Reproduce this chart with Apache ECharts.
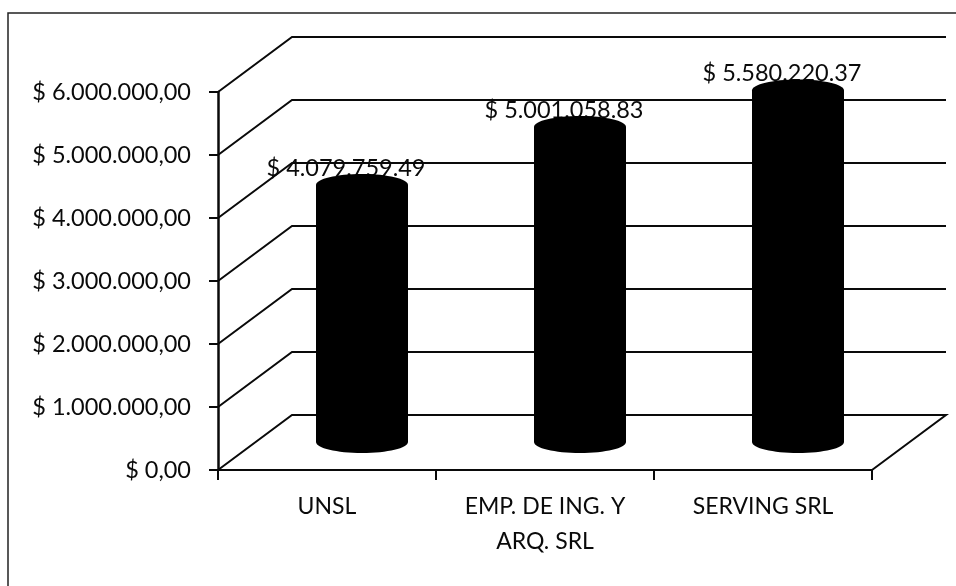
<!DOCTYPE html>
<html>
<head>
<meta charset="utf-8">
<style>html,body{margin:0;padding:0;background:#fff}#c{width:956px;height:586px}</style>
<script src="https://cdn.jsdelivr.net/npm/echarts@6/dist/echarts.min.js"></script>
</head>
<body>
<div id="c"></div>
<script>
const categories = ['UNSL', 'EMP. DE ING. Y\nARQ. SRL', 'SERVING SRL'];
const values = [4079759.49, 5001058.83, 5580220.37];
const valueLabels = ['$ 4.079.759.49', '$ 5.001.058.83', '$ 5.580.220.37'];
const tickValues = [0, 1000000, 2000000, 3000000, 4000000, 5000000, 6000000];
const tickLabels = ['$ 0,00', '$ 1.000.000,00', '$ 2.000.000,00', '$ 3.000.000,00', '$ 4.000.000,00', '$ 5.000.000,00', '$ 6.000.000,00'];

const FONT = 'Lato';
const INK = '#0a0a0a';
const DEPTH_X = 74, DEPTH_Y = -55;      // full depth of the 3D box
const MID_X = 35, MID_Y = -28;          // cylinder plane inside the box
const RX = 46, RY = 11;

const chart = echarts.init(document.getElementById('c'), null, {renderer: 'canvas'});

function renderWall(params, api) {
  const v = api.value(0);
  const band = api.size([1, 0])[0];
  const first = api.coord([0, v]);
  const last = api.coord([categories.length - 1, v]);
  const x0 = first[0] - band / 2, x1 = last[0] + band / 2, y = first[1];
  const pts = [[x0, y], [x0 + DEPTH_X, y + DEPTH_Y], [x1 + DEPTH_X, y + DEPTH_Y]];
  if (v === 0) pts.push([x1, y]);
  return {type: 'polyline', shape: {points: pts},
    style: {stroke: INK, lineWidth: 2, fill: null}};
}

function renderCylinder(params, api) {
  const i = api.value(0);
  const top = api.coord([i, api.value(1)]);
  const base = api.coord([i, 0]);
  const cx = top[0] + MID_X, yt = top[1] + MID_Y, yb = base[1] + MID_Y;
  const style = {fill: '#000'};
  return {type: 'group', children: [
    {type: 'text', x: cx - 16, y: yt - 17, style: {
      text: valueLabels[i], font: '23.5px ' + FONT, fill: INK,
      textAlign: 'center', textVerticalAlign: 'middle'}},
    {type: 'rect', shape: {x: cx - RX, y: yt, width: RX * 2, height: yb - yt}, style},
    {type: 'ellipse', shape: {cx, cy: yt, rx: RX, ry: RY}, style},
    {type: 'ellipse', shape: {cx, cy: yb, rx: RX, ry: RY}, style}
  ]};
}

chart.setOption({
  animation: false,
  backgroundColor: '#fff',
  grid: {left: 218, right: 84, top: 92, bottom: 116},
  xAxis: {
    type: 'category', data: categories,
    axisLine: {lineStyle: {color: INK, width: 2}},
    axisTick: {show: true, length: 10, lineStyle: {color: INK, width: 2}},
    axisLabel: {color: INK, fontFamily: FONT, fontSize: 23, margin: 19, lineHeight: 35}
  },
  yAxis: {
    type: 'value', min: 0, max: 6000000, interval: 1000000,
    axisLine: {show: true, lineStyle: {color: INK, width: 2.5}},
    axisTick: {show: true, length: 9, lineStyle: {color: INK, width: 2}},
    splitLine: {show: false},
    axisLabel: {color: INK, fontFamily: FONT, fontSize: 23.5, margin: 27,
      formatter: v => tickLabels[tickValues.indexOf(v)]}
  },
  series: [
    {type: 'custom', coordinateSystem: 'cartesian2d', renderItem: renderWall, clip: false, z: 1,
      data: tickValues.map(v => [v]), encode: {y: 0}, silent: true},
    {type: 'custom', coordinateSystem: 'cartesian2d', renderItem: renderCylinder, clip: false, z: 2,
      data: values.map((v, i) => [i, v]), encode: {x: 0, y: 1}, silent: true}
  ],
  graphic: [
    {type: 'polyline', silent: true, shape: {points: [[8, 586], [8, 13], [956, 13]]},
      style: {stroke: '#222', lineWidth: 1.5, fill: null}}
  ]
});
</script>
</body>
</html>
